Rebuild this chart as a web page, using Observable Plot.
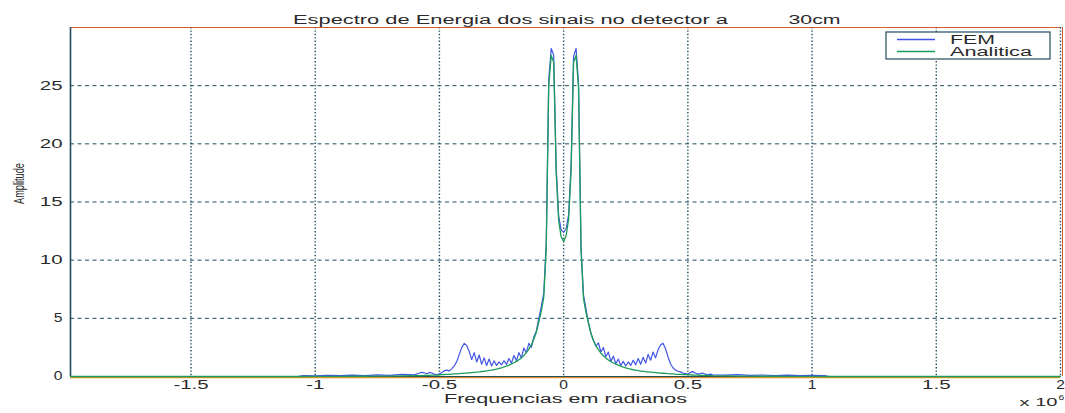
<!DOCTYPE html>
<html><head><meta charset="utf-8">
<script src="https://cdn.jsdelivr.net/npm/d3@7"></script>
<script src="https://cdn.jsdelivr.net/npm/@observablehq/plot@0.6"></script>
<style>
body{margin:0;background:#fff;}
#chart svg text{font-family:"Liberation Sans",Arial,sans-serif;}
</style></head><body><div id="chart"></div>
<script>
// frequency (x 10^6 rad)
const freq = [
 -1.985,-1.2,-1.07,-1.05,-1.0,-0.95,-0.9,-0.85,-0.8,-0.75,-0.7,-0.65,
 -0.60,-0.59,-0.58,-0.57,-0.56,-0.55,-0.54,-0.53,-0.52,-0.51,
 -0.50,-0.49,-0.48,-0.47,-0.46,-0.45,-0.44,-0.43,-0.42,-0.41,
 -0.40,-0.39,-0.38,-0.37,-0.36,-0.35,-0.34,-0.33,-0.32,-0.31,
 -0.30,-0.29,-0.28,-0.27,-0.26,-0.25,-0.24,-0.23,-0.22,-0.21,
 -0.20,-0.19,-0.18,-0.17,-0.16,-0.15,-0.14,-0.13,-0.12,-0.11,
 -0.10,-0.09,-0.08,-0.07,-0.06,-0.05,-0.04,-0.03,-0.02,-0.01,
 0.00,
 0.01,0.02,0.03,0.04,0.05,0.06,0.07,0.08,0.09,0.10,
 0.11,0.12,0.13,0.14,0.15,0.16,0.17,0.18,0.19,0.20,
 0.21,0.22,0.23,0.24,0.25,0.26,0.27,0.28,0.29,0.30,
 0.31,0.32,0.33,0.34,0.35,0.36,0.37,0.38,0.39,0.40,
 0.41,0.42,0.43,0.44,0.45,0.46,0.47,0.48,0.49,0.50,
 0.51,0.52,0.53,0.54,0.55,0.56,0.57,0.58,0.59,0.60,
 0.65,0.7,0.75,0.8,0.85,0.9,0.95,1.0,1.05,1.07,1.2,2.0
];
const fem = [
 0,0,0,0.08,0.06,0.1,0.07,0.12,0.08,0.14,0.1,0.18,
 0.15,0.22,0.3,0.36,0.3,0.24,0.35,0.3,0.2,0.15,
 0.22,0.35,0.5,0.55,0.48,0.68,0.92,1.3,1.9,2.5,
 2.85,2.65,2.15,1.45,2.05,1.25,1.85,1.05,1.6,0.95,
 1.5,0.9,1.35,0.95,1.25,1.0,1.35,1.05,1.55,1.15,
 1.8,1.35,2.05,1.6,2.45,2.05,2.85,2.5,3.4,3.9,
 5.0,6.0,7.2,11.5,25.5,28.2,27.6,18.0,13.8,12.6,
 12.4,
 12.7,13.9,18.2,27.5,28.2,25.2,11.2,7.0,5.8,4.6,
 3.7,3.1,2.6,2.9,2.1,2.5,1.7,2.1,1.3,1.75,
 1.1,1.5,0.95,1.3,0.9,1.25,0.95,1.4,1.0,1.55,
 1.05,1.65,1.15,1.9,1.4,2.1,1.6,2.3,2.7,2.85,
 2.4,1.7,1.1,0.75,0.55,0.45,0.4,0.3,0.25,0.2,
 0.35,0.42,0.3,0.2,0.25,0.3,0.2,0.15,0.2,0.15,
 0.12,0.16,0.1,0.13,0.08,0.12,0.08,0.1,0.08,0,0,0
];
const analitica = [
 0,0,0,0,0.01,0.01,0.01,0.02,0.02,0.03,0.04,0.05,
 0.07,0.07,0.08,0.08,0.09,0.1,0.1,0.11,0.12,0.13,
 0.15,0.16,0.17,0.18,0.19,0.21,0.22,0.23,0.25,0.27,
 0.29,0.3,0.32,0.34,0.36,0.38,0.4,0.43,0.45,0.48,
 0.52,0.55,0.6,0.64,0.7,0.75,0.82,0.9,0.98,1.08,
 1.18,1.3,1.44,1.6,1.8,2.05,2.35,2.7,3.2,3.8,
 4.7,5.6,6.8,11.0,25.0,27.6,27.0,17.5,13.4,12.0,
 11.6,
 12.1,13.5,17.6,27.0,27.6,24.8,10.8,6.7,5.5,4.6,
 3.7,3.1,2.65,2.3,2.0,1.78,1.58,1.42,1.28,1.16,
 1.06,0.97,0.89,0.81,0.74,0.68,0.63,0.58,0.54,0.5,
 0.47,0.44,0.41,0.39,0.37,0.35,0.33,0.31,0.29,0.28,
 0.26,0.24,0.23,0.22,0.2,0.19,0.18,0.17,0.16,0.15,
 0.14,0.13,0.12,0.11,0.1,0.1,0.09,0.08,0.08,0.07,
 0.05,0.04,0.03,0.02,0.02,0.01,0.01,0.01,0,0,0,0
];
const xTicks = [-1.5, -1, -0.5, 0, 0.5, 1, 1.5, 2];
const yTicks = [0, 5, 10, 15, 20, 25];
const xDomain = [-1.985, 2];
const yDomain = [0, 30];
const titleMain = "Espectro de Energia dos sinais no detector a";
const titleDist = "30cm";
const xLabel = "Frequencias em radianos";
const yLabel = "Amplitude";
const xExp = "x 10";
const xExpPow = "6";
const seriesNames = ["FEM", "Analitica"];
const colors = ["#4255e6", "#1c9c5a"];

const rows = freq.map((f, i) => ({f, fem: fem[i], ana: analitica[i]}));
const grid = "#1f4e5c";
const ink = "#2a2a2a";

const plot = Plot.plot({
  width: 1065, height: 413,
  marginLeft: 70, marginRight: 5, marginTop: 27, marginBottom: 37,
  style: {fontFamily: '"Liberation Sans", Arial, sans-serif', fontSize: "12px", color: ink, background: "#fff"},
  x: {domain: xDomain, ticks: xTicks, tickFormat: d => String(d), tickSize: 0, tickPadding: 4, label: null},
  y: {domain: yDomain, ticks: yTicks, tickFormat: d => String(d), tickSize: 0, tickPadding: 8, label: null},
  marks: [
    Plot.ruleX(xTicks, {stroke: grid, strokeOpacity: 1, strokeDasharray: "1.4,2", strokeWidth: 1.4}),
    Plot.ruleY(yTicks.filter(d => d > 0), {stroke: grid, strokeOpacity: 1, strokeDasharray: "4,3.5", strokeWidth: 1}),
    Plot.ruleY([0], {stroke: "#e0902c", strokeWidth: 1.6, dy: 1}),
    Plot.ruleY([0], {stroke: grid, strokeWidth: 1}),
    Plot.ruleY([yDomain[1]], {stroke: "#d35a36", strokeWidth: 1}),
    Plot.ruleX([xDomain[1]], {stroke: "#d35a36", strokeWidth: 1, dx: 2}),
    Plot.line(rows, {x: "f", y: "fem", stroke: colors[0], strokeWidth: 1.2}),
    Plot.line(rows, {x: "f", y: "ana", stroke: colors[1], strokeWidth: 1.3}),
    Plot.ruleX([xDomain[0]], {stroke: grid, strokeWidth: 1.6}),
    Plot.text([titleMain], {text: d => d, frameAnchor: "top", dx: -55, dy: -12, fontSize: 12, fill: ink}),
    Plot.text([titleDist], {text: d => d, frameAnchor: "top", dx: 249, dy: -12, fontSize: 12, fill: ink}),
    Plot.text([xLabel], {text: d => d, frameAnchor: "bottom", dy: 26, fontSize: 12.5, fill: ink}),
    Plot.text([yLabel], {text: d => d, frameAnchor: "left", dx: -51, dy: 2, rotate: -90, fontSize: 15, fill: ink}),
    Plot.text([xExp], {text: d => d, frameAnchor: "bottom-right", textAnchor: "end", dx: -3, dy: 29, fontSize: 11, fill: ink}),
    Plot.text([xExpPow], {text: d => d, frameAnchor: "bottom-right", textAnchor: "start", dx: -2, dy: 23, fontSize: 8, fill: ink})
  ]
});
document.getElementById("chart").append(plot);

const svg = d3.select(plot);
// legend
const lg = svg.append("g").attr("class", "legend");
lg.append("rect").attr("x", 886).attr("y", 32).attr("width", 164).attr("height", 27)
  .attr("fill", "#fff").attr("stroke", grid).attr("stroke-width", 1.2);
seriesNames.forEach((name, i) => {
  const yy = 39.5 + i * 12;
  lg.append("line").attr("x1", 897).attr("x2", 935).attr("y1", yy).attr("y2", yy)
    .attr("stroke", colors[i]).attr("stroke-width", 1.3);
  lg.append("text").attr("x", 950).attr("y", yy + 4).attr("fill", ink)
    .attr("text-anchor", "start").attr("font-size", 12).text(name);
});

// horizontal stretch of glyphs as in the reference
const fixed = {
  [titleMain]: 435, [titleDist]: 52, [xLabel]: 243, [yLabel]: 41,
  [xExp]: 38, "FEM": 45, "Analitica": 82
};
svg.selectAll("text").each(function () {
  if (this.querySelector("tspan")) return;
  const t = this.textContent;
  const L = this.getComputedTextLength();
  if (!L) return;
  const target = fixed[t] !== undefined ? fixed[t] : (t.length > 1 ? L * 1.7 : L * 1.3);
  this.setAttribute("textLength", target);
  this.setAttribute("lengthAdjust", "spacingAndGlyphs");
});
</script></body></html>
